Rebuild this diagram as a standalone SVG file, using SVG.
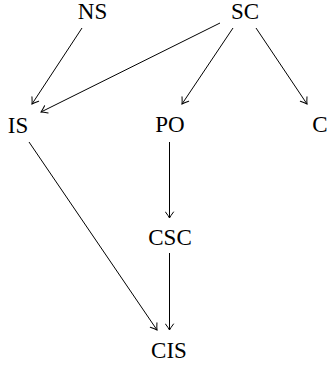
<svg xmlns="http://www.w3.org/2000/svg" width="328" height="370" viewBox="0 0 328 370">
<style>
.lbl { font-family: 'Liberation Serif', 'DejaVu Serif', 'Times New Roman', Times, serif; font-size: 23px; fill: #000; text-anchor: middle; }
.edge { stroke: #000; stroke-width: 1; fill: none; marker-end: url(#to); }
</style>
<defs>
<marker id="to" viewBox="-7 -5 9 10" refX="0" refY="0" markerWidth="9" markerHeight="10" markerUnits="userSpaceOnUse" orient="auto">
<path d="M -6,-4 Q -2,-1 0,0 Q -2,1 -6,4" fill="none" stroke="#000" stroke-width="1" stroke-linecap="round"/>
</marker>
</defs>
<g id="connectors">
<line class="edge" x1="82" y1="28" x2="32" y2="104"/>
<line class="edge" x1="220" y1="23" x2="41" y2="112"/>
<line class="edge" x1="233" y1="28" x2="182" y2="104"/>
<line class="edge" x1="256" y1="28" x2="307" y2="104"/>
<line class="edge" x1="29" y1="142" x2="157" y2="330"/>
<line class="edge" x1="169.5" y1="142" x2="169.5" y2="218"/>
<line class="edge" x1="169.5" y1="253" x2="169.5" y2="330"/>
</g>
<g id="node-NS"><text class="lbl" x="92.5" y="19">NS</text></g>
<g id="node-SC"><text class="lbl" x="245" y="19">SC</text></g>
<g id="node-IS"><text class="lbl" x="18" y="133">IS</text></g>
<g id="node-PO"><text class="lbl" x="170" y="132">PO</text></g>
<g id="node-C"><text class="lbl" x="320" y="132">C</text></g>
<g id="node-CSC"><text class="lbl" x="170" y="245">CSC</text></g>
<g id="node-CIS"><text class="lbl" x="169" y="358">CIS</text></g>
</svg>
